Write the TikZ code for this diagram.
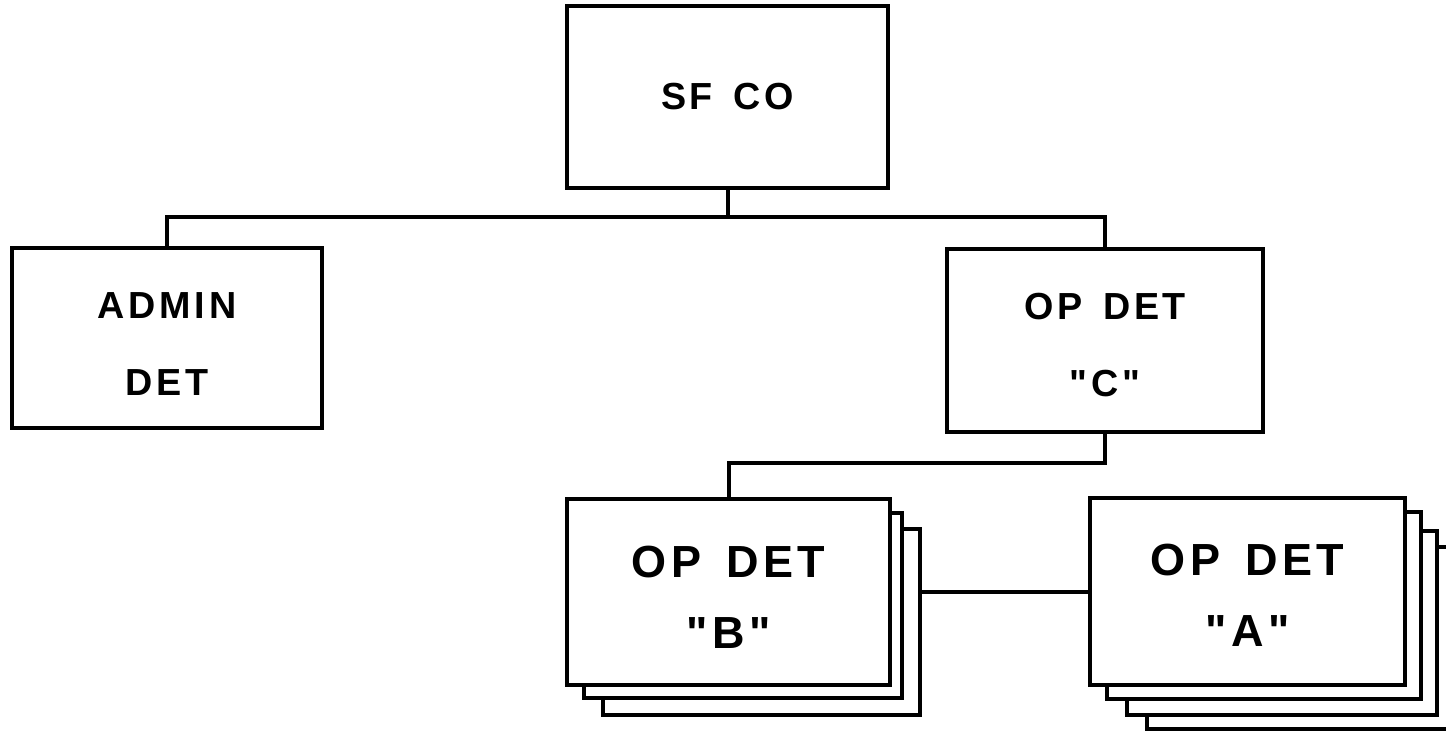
\documentclass[tikz,border=0pt]{standalone}
\usepackage{fontspec}
\setmainfont{Liberation Sans}[LetterSpace=10,Ligatures=TeXOff]
\newcommand{\wsp}{\hspace{0.55em}}
\begin{document}
\begin{tikzpicture}[x=1pt,y=-1pt,
  box/.style={draw,line width=4pt,fill=white,rectangle,inner sep=0pt},
  txt/.style={inner sep=0pt,align=center,font=\bfseries\fontsize{37.7}{77}\selectfont},
  bigtxt/.style={txt,font=\bfseries\fontsize{45}{71}\selectfont},
  conn/.style={line width=4pt}]
\useasboundingbox (0,0) rectangle (1446,732);
% top
\node[box,minimum width=321pt,minimum height=182pt] (sfco) at (727.5,97) {};
\node[txt] (sfco-t) at (sfco.center) {SF\wsp CO};
\node[box,minimum width=310pt,minimum height=180pt] (admin) at (167,338) {};
\node[txt] (admin-t) at ([yshift=-6pt]admin.center) {ADMIN\\DET};
\node[box,minimum width=316pt,minimum height=183pt] (opc) at (1105,340.5) {};
\node[txt] (opc-t) at ([yshift=-5pt]opc.center) {OP\wsp DET\\"C"};
% B stack
\node[box,minimum width=317pt,minimum height=186pt] (b3) at (761.5,622) {};
\node[box,minimum width=318pt,minimum height=185pt] (b2) at (743,605.5) {};
\node[box,minimum width=323pt,minimum height=186pt] (opb) at (728.5,592) {};
\node[bigtxt] (opb-t) at ([yshift=-5pt]opb.center) {OP\wsp DET\\"B"};
% A stack
\node[box,minimum width=315pt,minimum height=182pt] (a4) at (1304.5,638) {};
\node[box,minimum width=310pt,minimum height=184pt] (a3) at (1282,623) {};
\node[box,minimum width=314pt,minimum height=187pt] (a2) at (1264,605.5) {};
\node[box,minimum width=315pt,minimum height=187pt] (opa) at (1247.5,591.5) {};
\node[bigtxt] (opa-t) at ([yshift=-4pt]opa.center) {OP\wsp DET\\"A"};
% connectors
\coordinate (j1) at (727.5,217);
\coordinate (j2y) at (0,463);
\draw[conn] (sfco.south) -- (j1);
\draw[conn] (admin.north) |- (j1) -| (opc.north);
\draw[conn] (opc.south) |- (opb.north |- j2y) -- (opb.north);
\draw[conn] (b3.east |- opa.west) -- (opa.west);
\end{tikzpicture}
\end{document}
